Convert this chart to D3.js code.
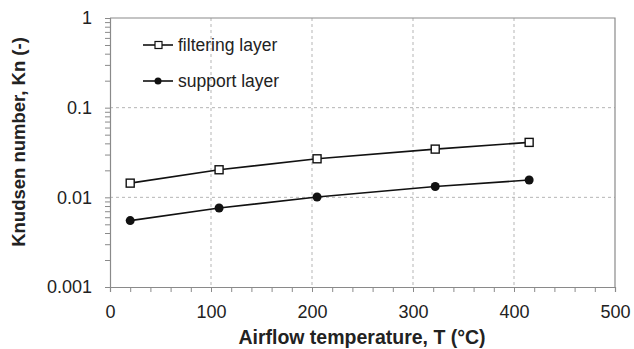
<!DOCTYPE html>
<html>
<head>
<meta charset="utf-8">
<script src="https://cdn.jsdelivr.net/npm/d3@7"></script>
<style>
  html, body { margin: 0; padding: 0; background: #fff; }
  svg { display: block; font-family: "Liberation Sans", Arial, sans-serif; }
</style>
</head>
<body>
<svg id="chart" width="634" height="349"></svg>
<script>
// Knudsen number vs. airflow temperature for the two membrane layers
const temperatures = [20, 108, 205, 322, 415];
const filteringLayer = [0.0144, 0.0203, 0.0269, 0.0345, 0.041];
const supportLayer = [0.0055, 0.0076, 0.0101, 0.0132, 0.0156];
const xTicks = [0, 100, 200, 300, 400, 500];
const yTicks = [0.001, 0.01, 0.1, 1];
const yTickLabels = ["0.001", "0.01", "0.1", "1"];
const seriesNames = ["filtering layer", "support layer"];

const svg = d3.select("#chart");
const m = { left: 110, right: 615, top: 18, bottom: 287 };

const x = d3.scaleLinear().domain([0, 500]).range([m.left, m.right]);
const y = d3.scaleLog().domain([0.001, 1]).range([m.bottom, m.top]);

const axisColor = "#8a8a8a";
const gridColor = "#b5b5b5";
const font = "Liberation Sans, Arial, sans-serif";

// dashed grid
const grid = svg.append("g");
grid.selectAll("line.gx").data(xTicks.slice(1, -1)).join("line")
  .attr("x1", d => x(d)).attr("x2", d => x(d))
  .attr("y1", m.top).attr("y2", m.bottom)
  .attr("stroke", gridColor).attr("stroke-dasharray", "3,3");
grid.selectAll("line.gy").data(yTicks.slice(1, -1)).join("line")
  .attr("y1", d => y(d)).attr("y2", d => y(d))
  .attr("x1", m.left).attr("x2", m.right)
  .attr("stroke", gridColor).attr("stroke-dasharray", "3,3");

// frame top/right
svg.append("path")
  .attr("d", `M${m.left},${m.top}H${m.right}V${m.bottom}`)
  .attr("fill", "none").attr("stroke", axisColor).attr("stroke-width", 1.2);

// x axis with minor ticks
const minorX = d3.range(0, 501, 20);
const xAxis = d3.axisBottom(x).tickValues(minorX).tickSize(5)
  .tickFormat(d => xTicks.includes(d) ? d : "").tickPadding(13);
const gx = svg.append("g").attr("transform", `translate(0,${m.bottom})`).call(xAxis);
gx.select(".domain").attr("stroke", axisColor).attr("stroke-width", 1.2);
gx.selectAll(".tick line").attr("stroke", axisColor);
gx.selectAll(".tick text").attr("font-size", 18).attr("fill", "#222").attr("font-family", font);

// y axis, log with minor ticks
const minorY = [];
[0.001, 0.01, 0.1].forEach(b => { for (let k = 1; k < 10; k++) minorY.push(b * k); });
minorY.push(1);
const yAxis = d3.axisLeft(y).tickValues(minorY).tickSize(5)
  .tickFormat(d => {
    const i = yTicks.findIndex(t => Math.abs(t - d) / t < 1e-6);
    return i >= 0 ? yTickLabels[i] : "";
  }).tickPadding(13);
const gy = svg.append("g").attr("transform", `translate(${m.left},0)`).call(yAxis);
gy.select(".domain").attr("stroke", axisColor).attr("stroke-width", 1.2);
gy.selectAll(".tick line").attr("stroke", axisColor);
gy.selectAll(".tick text").attr("font-size", 18).attr("fill", "#222").attr("font-family", font);

// series
const line = d3.line().x(d => x(d[0])).y(d => y(d[1]));
const filtPts = temperatures.map((t, i) => [t, filteringLayer[i]]);
const suppPts = temperatures.map((t, i) => [t, supportLayer[i]]);

svg.append("path").datum(filtPts).attr("d", line)
  .attr("fill", "none").attr("stroke", "#111").attr("stroke-width", 1.6);
svg.append("path").datum(suppPts).attr("d", line)
  .attr("fill", "none").attr("stroke", "#111").attr("stroke-width", 1.6);

svg.selectAll("rect.fm").data(filtPts).join("rect")
  .attr("x", d => x(d[0]) - 4).attr("y", d => y(d[1]) - 4)
  .attr("width", 8).attr("height", 8)
  .attr("fill", "#fff").attr("stroke", "#111").attr("stroke-width", 1.4);
svg.selectAll("circle.sm").data(suppPts).join("circle")
  .attr("cx", d => x(d[0])).attr("cy", d => y(d[1])).attr("r", 4.5)
  .attr("fill", "#111");

// legend
const leg = svg.append("g");
const legY = [45, 81];
seriesNames.forEach((name, i) => {
  leg.append("line").attr("x1", 143).attr("x2", 173)
    .attr("y1", legY[i]).attr("y2", legY[i])
    .attr("stroke", "#111").attr("stroke-width", 1.6);
  if (i === 0) {
    leg.append("rect").attr("x", 155).attr("y", legY[i] - 3.5)
      .attr("width", 7).attr("height", 7)
      .attr("fill", "#fff").attr("stroke", "#111").attr("stroke-width", 1.2);
  } else {
    leg.append("circle").attr("cx", 158).attr("cy", legY[i]).attr("r", 3.5).attr("fill", "#111");
  }
  leg.append("text").attr("x", 178).attr("y", legY[i]).attr("dy", "0.35em")
    .attr("font-size", 17.5).attr("fill", "#222").text(name);
});

// axis titles
svg.append("text").attr("x", 362).attr("y", 344)
  .attr("text-anchor", "middle").attr("font-size", 19.5).attr("font-weight", "bold")
  .attr("fill", "#222").text("Airflow temperature, T (°C)");
svg.append("text")
  .attr("transform", `translate(25,142) rotate(-90)`)
  .attr("text-anchor", "middle").attr("font-size", 18.5).attr("font-weight", "bold")
  .attr("fill", "#222").text("Knudsen number, Kn (-)");
</script>
</body>
</html>
